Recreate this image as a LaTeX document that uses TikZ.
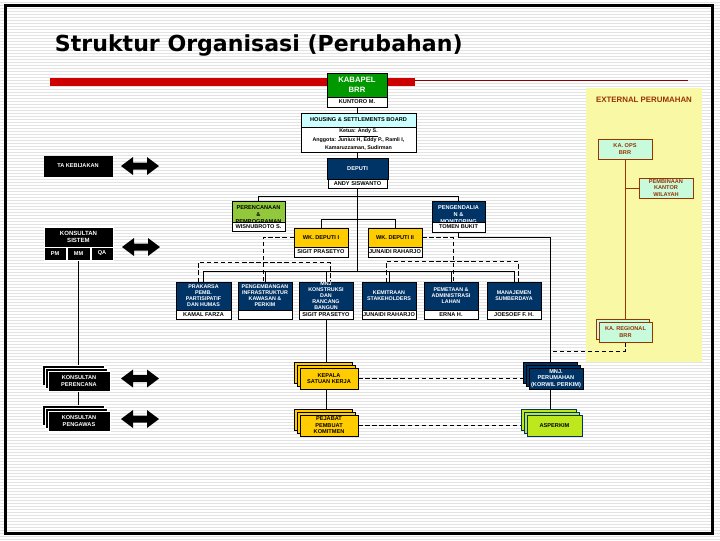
\documentclass[tikz,border=0pt]{standalone}
\usepackage{fontspec}
\setmainfont{Liberation Sans}
\newfontfamily\titlefont{DejaVu Sans}
\usetikzlibrary{positioning,shadows,calc,backgrounds}
\definecolor{navy}{RGB}{0,51,102}
\definecolor{kgreen}{RGB}{0,153,0}
\definecolor{gold}{RGB}{255,204,0}
\definecolor{limeA}{RGB}{146,200,60}
\definecolor{limeB}{RGB}{190,232,30}
\definecolor{paleyel}{RGB}{248,248,165}
\definecolor{mint}{RGB}{200,250,220}
\definecolor{brn}{RGB}{153,51,0}
\definecolor{barred}{RGB}{204,0,0}
\definecolor{darkbar}{RGB}{140,0,0}
\definecolor{lightcyan}{RGB}{204,255,255}
\newcommand{\pxu}{0.025cm}
\newcommand{\dblarrow}[1]{\fill[shift={(#1)}] (-19,0) -- (-7,-9) -- (-7,-3.5) -- (7,-3.5) -- (7,-9) -- (19,0) -- (7,9) -- (7,3.5) -- (-7,3.5) -- (-7,9) -- cycle;}

\begin{document}
\begin{tikzpicture}[x=0.025cm, y=-0.025cm,
  unit/.style={draw, line width=0.4pt, inner sep=0pt, align=center, font=\fontsize{4}{4.6}\selectfont\bfseries},
  sz/.style 2 args={minimum width=#1*\pxu, minimum height=#2*\pxu},
  namebox/.style={unit, fill=white},
  navybox/.style={unit, fill=navy, text=white},
  blackbox/.style={unit, draw=white, fill=black, text=white},
  goldbox/.style={unit, fill=gold},
  extbox/.style={unit, draw=brn, fill=mint, text=brn},
  rowbox/.style={navybox, sz={54}{28}, font=\fontsize{3.8}{4.3}\selectfont\bfseries},
  stack/.style={double copy shadow={shadow xshift=-0.075cm, shadow yshift=0.075cm}},
  link/.style={line width=0.6pt},
  dlink/.style={link, dash pattern=on 3pt off 2pt},
  stripe/.style={gray!22, line width=0.35pt}]
\useasboundingbox (0,0) rectangle (720,540);

% slide background
\begin{scope}[on background layer]
  \fill[white] (0,0) rectangle (720,540);
  \foreach \yy in {2,5,...,539}
    \draw[stripe] (0,\yy) -- (720,\yy);
  \fill[paleyel] (586,88) rectangle (702,362);
\end{scope}

\node[anchor=west, font=\titlefont\bfseries\fontsize{15.7}{18}\selectfont] (title) at (50,45) {Struktur Organisasi (Perubahan)};
\fill[barred] (50,78) rectangle (415,86);
\draw[darkbar, line width=0.6pt] (415,80) -- (688,80);

% top of the tree
\node[unit, fill=kgreen, text=white, sz={60}{24}, font=\fontsize{5.5}{7}\selectfont\bfseries] (kabapel) at (357,85) {KABAPEL\\BRR};
\node[namebox, sz={60}{10}] (kuntoro) at (357,102) {KUNTORO M.};
\node[unit, fill=lightcyan, sz={115}{14}] (hhead) at (358.5,120) {HOUSING \& SETTLEMENTS BOARD};
\node[namebox, sz={115}{25}, font=\fontsize{3.8}{5.2}\selectfont\bfseries] (hbody) at (358.5,139.5) {\underline{Ketua: Andy S.}\\Anggota: Juniux H, Eddy P., Ramli I,\\Kamaruzzaman, Sudirman};
\node[navybox, sz={61}{21}] (deputi) at (357.5,168.5) {DEPUTI};
\node[namebox, sz={59}{9}] (andy) at (357.5,183.5) {ANDY SISWANTO};

% left column
\node[blackbox, draw=black, sz={68}{20}] (takeb) at (78,166) {TA KEBIJAKAN};
\node[blackbox, sz={69}{20}, font=\fontsize{4.3}{5}\selectfont\bfseries] (ksistem) at (78.5,237) {KONSULTAN\\SISTEM};
\node[blackbox, sz={22}{13}] (pm) at (55,253.5) {PM};
\node[blackbox, sz={23}{13}] (mm) at (78.5,253.5) {MM};
\node[blackbox, sz={22}{13}] (qa) at (102,253.5) {QA};
\node[blackbox, stack, sz={62}{20}] (kperenc) at (79,381) {KONSULTAN\\PERENCANA};
\node[blackbox, stack, sz={62}{20}] (kpengaw) at (79,421) {KONSULTAN\\PENGAWAS};
\dblarrow{140,166}
\dblarrow{141,247}
\dblarrow{140,378.5}
\dblarrow{140,419}

% second level
\node[unit, fill=limeA, sz={53}{27}, font=\fontsize{4}{4.7}\selectfont\bfseries] (perenc) at (258.5,214.5) {PERENCANAAN\\\&\\PEMROGRAMAN};
\node[namebox, sz={53}{9}] (wisnu) at (258.5,226.5) {WISNUBROTO S.};
\node[navybox, sz={53}{27}, font=\fontsize{4}{4.7}\selectfont\bfseries] (pengend) at (458.5,214.5) {PENGENDALIA\\N \&\\MONITORING};
\node[namebox, sz={53}{10}] (tomen) at (458.5,227) {TOMEN BUKIT};
\node[goldbox, sz={54}{19}] (wkd1) at (321,237.5) {WK. DEPUTI I};
\node[namebox, sz={54}{10}] (sigit1) at (321,252) {SIGIT PRASETYO};
\node[goldbox, sz={54}{19}] (wkd2) at (395,237.5) {WK. DEPUTI II};
\node[namebox, sz={54}{10}] (junaidi1) at (395,252) {JUNAIDI RAHARJO};

% third level
\node[rowbox, sz={55}{28}] (prakarsa) at (203.5,296) {PRAKARSA\\PEMB.\\PARTISIPATIF\\DAN HUMAS};
\node[namebox, sz={55}{9}] (kamal) at (203.5,314.5) {KAMAL FARZA};
\node[rowbox] (pengemb) at (265,296) {PENGEMBANGAN\\INFRASTRUKTUR\\KAWASAN \&\\PERKIM};
\node[namebox, sz={54}{9}] (pengembname) at (265,314.5) {};
\node[rowbox] (mnjkons) at (326,296) {MNJ\\KONSTRUKSI\\DAN\\RANCANG\\BANGUN};
\node[namebox, sz={54}{9}] (sigit2) at (326,314.5) {SIGIT PRASETYO};
\node[rowbox] (kemitraan) at (389,296) {KEMITRAAN\\STAKEHOLDERS};
\node[namebox, sz={54}{9}] (junaidi2) at (389,314.5) {JUNAIDI RAHARJO};
\node[rowbox] (pemetaan) at (451,296) {PEMETAAN \&\\ADMINISTRASI\\LAHAN};
\node[namebox, sz={54}{9}] (erna) at (451,314.5) {ERNA H.};
\node[rowbox] (manajemen) at (514,296) {MANAJEMEN\\SUMBERDAYA};
\node[namebox, sz={54}{9}] (joesoef) at (514,314.5) {JOESOEF F. H.};

% bottom
\node[goldbox, stack, sz={58}{21}] (kepala) at (329,378.5) {KEPALA\\SATUAN KERJA};
\node[goldbox, stack, sz={58}{21}] (pejabat) at (329,425.5) {PEJABAT\\PEMBUAT\\KOMITMEN};
\node[navybox, stack, sz={54}{21}] (mnjperum) at (556,378.5) {MNJ.\\PERUMAHAN\\(KORWIL PERKIM)};
\node[unit, fill=limeB, draw=navy, stack, sz={55}{21}] (asperkim) at (554.5,425.5) {ASPERKIM};

% external
\node[text=brn, font=\fontsize{5.6}{6}\selectfont\bfseries] (extlabel) at (644,100) {EXTERNAL PERUMAHAN};
\node[extbox, sz={54}{20}] (kaops) at (625,149) {KA. OPS\\BRR};
\node[extbox, sz={54}{20}] (pembinaan) at (666,188) {PEMBINAAN\\KANTOR\\WILAYAH};
\node[extbox, copy shadow={shadow xshift=-0.075cm, shadow yshift=0.075cm}, sz={53}{20}] (kareg) at (625.5,332) {KA. REGIONAL\\BRR};

\coordinate (pkline) at (550,237);
\coordinate (regjoin) at (550,351);

% connectors
\begin{scope}[on background layer]
  \draw[link] (kuntoro.south) -- ++(0,165);
  \draw[link] (perenc.north) -- ++(0,-4) -| (pengend.north);
  \draw[link] (wkd1.north) -- ++(0,-8) -| (wkd2.north);
  \draw[link] (prakarsa.north) -- ++(0,-10) -| (manajemen.north);
  \foreach \b in {pengemb,mnjkons,kemitraan,pemetaan}
    \draw[link] (\b.north) -- ++(0,-10);
  \draw[dlink] (wkd1.west) -| ($(pengemb.north)+(-2,0)$);
  \draw[dlink] ($(prakarsa.north)+(-5.5,0)$) |- ($(mnjkons.north)+(4,-19)$) -- ($(mnjkons.north)+(4,0)$);
  \draw[dlink] (wkd2.east) -| ($(pemetaan.north)+(2,0)$);
  \draw[dlink] ($(kemitraan.north)+(-3,0)$) |- ($(manajemen.north)+(4,-20)$) -- ($(manajemen.north)+(4,0)$);
  \draw[link] (tomen.south) |- (pkline) -- (pkline |- mnjperum.north);
  \draw[link] (pkline |- mnjperum.south) -- (pkline |- asperkim.north);
  \draw[link] (sigit2.south) -- (sigit2.south |- kepala.north);
  \draw[link] (sigit2.south |- kepala.south) -- (sigit2.south |- pejabat.north);
  \draw[dlink] (kepala.east) -- (kepala.east -| mnjperum.west);
  \draw[dlink] (pejabat.east) -- (pejabat.east -| asperkim.west);
  \draw[link] (mm.south) -- (mm.south |- kpengaw.north);
  \draw[link, brn] (kaops.south) -- (kaops.south |- kareg.north);
  \draw[link, brn] (kaops.south |- pembinaan.west) -- (pembinaan.west);
  \draw[dlink] (kareg.south) |- (regjoin);
\end{scope}

\draw[line width=2.2pt] (5.5,5.5) rectangle (712.5,533.5);
\end{tikzpicture}
\end{document}
